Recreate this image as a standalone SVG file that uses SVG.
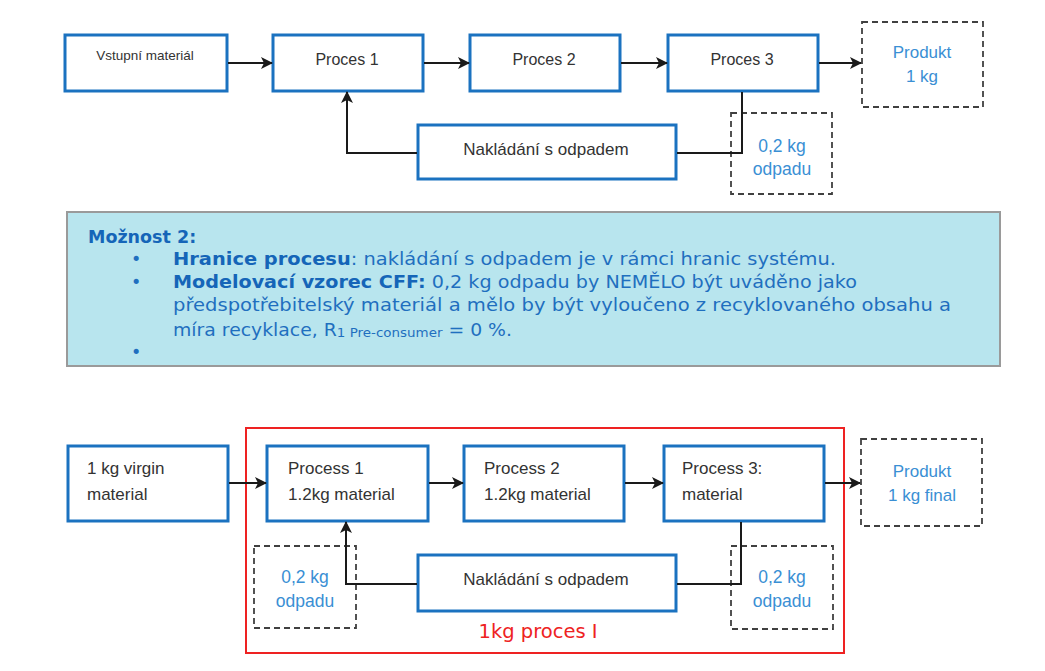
<svg xmlns="http://www.w3.org/2000/svg" width="1045" height="671" viewBox="0 0 1045 671">
  <style>
    .node { fill: #ffffff; stroke: #1b72c0; stroke-width: 3; }
    .dash { fill: #ffffff; stroke: #404040; stroke-width: 1.8; stroke-dasharray: 6 4; }
    .lbl { font-family: "Liberation Sans", Arial, sans-serif; font-size: 16px; fill: #333333; }
    .lbl17 { font-size: 17px; }
    .blue { font-family: "Liberation Sans", Arial, sans-serif; font-size: 17px; fill: #3a8fd4; }
    .edge { fill: none; stroke: #1a1a1a; stroke-width: 2; }
    .note { font-family: "DejaVu Sans", Verdana, sans-serif; font-size: 17.5px; fill: #1f6fbf; }
    .noteb { font-weight: bold; fill: #1565b8; }
  </style>
  <defs>
    <marker id="arrow" viewBox="0 0 12 12" refX="11" refY="6" markerWidth="12" markerHeight="12" markerUnits="userSpaceOnUse" orient="auto">
      <path d="M0,0 L12,6 L0,12 L3,6 Z" fill="#1a1a1a"/>
    </marker>
  </defs>

  <rect width="1045" height="671" fill="#ffffff"/>

  <!-- Upper flow: option 2 -->
  <g id="top-input"><rect class="node" x="65" y="35" width="162" height="56"/><text class="lbl" x="145" y="60" text-anchor="middle" style="font-size:13.5px">Vstupní materiál</text></g>
  <g id="top-p1"><rect class="node" x="273" y="35" width="150" height="56"/><text class="lbl" x="347" y="65" text-anchor="middle">Proces 1</text></g>
  <g id="top-p2"><rect class="node" x="470" y="35" width="150" height="56"/><text class="lbl" x="544" y="65" text-anchor="middle">Proces 2</text></g>
  <g id="top-p3"><rect class="node" x="668" y="35" width="150" height="56"/><text class="lbl" x="742" y="65" text-anchor="middle">Proces 3</text></g>
  <g id="top-product"><rect class="dash" x="862" y="22" width="121" height="85"/><text class="blue" x="922" y="58" text-anchor="middle">Produkt</text><text class="blue" x="922" y="82" text-anchor="middle">1 kg</text></g>
  <g id="top-waste-box"><rect class="dash" x="731" y="113" width="101" height="81"/><text class="blue" x="782" y="152" text-anchor="middle" style="font-size:17.5px">0,2 kg</text><text class="blue" x="782" y="175" text-anchor="middle" style="font-size:17.5px">odpadu</text></g>
  <g id="top-waste-mgmt"><rect class="node" x="418" y="125" width="258" height="54"/><text class="lbl lbl17" x="546" y="155" text-anchor="middle">Nakládání s odpadem</text></g>

  <g id="top-connectors">
    <line class="edge" x1="228" y1="63" x2="272" y2="63" marker-end="url(#arrow)"/>
    <line class="edge" x1="424" y1="63" x2="469" y2="63" marker-end="url(#arrow)"/>
    <line class="edge" x1="621" y1="63" x2="667" y2="63" marker-end="url(#arrow)"/>
    <line class="edge" x1="819" y1="63" x2="861" y2="63" marker-end="url(#arrow)"/>
    <polyline class="edge" points="742,92 742,153 677,153"/>
    <polyline class="edge" points="417,153 347,153 347,92" marker-end="url(#arrow)"/>
  </g>

  <!-- Note panel -->
  <g id="note">
    <rect x="67" y="212" width="933" height="154" fill="#b8e5ee" stroke="#9a9a9a" stroke-width="2"/>
    <text class="note noteb" x="88" y="243">Možnost 2:</text>
    <text class="note" x="131" y="265">•</text>
    <text class="note" x="173" y="265" textLength="663" lengthAdjust="spacingAndGlyphs"><tspan class="noteb">Hranice procesu</tspan>: nakládání s odpadem je v rámci hranic systému.</text>
    <text class="note" x="131" y="288">•</text>
    <text class="note" x="173" y="288" textLength="684" lengthAdjust="spacingAndGlyphs"><tspan class="noteb">Modelovací vzorec CFF:</tspan> 0,2 kg odpadu by NEMĚLO být uváděno jako</text>
    <text class="note" x="173" y="311" textLength="778" lengthAdjust="spacingAndGlyphs">předspotřebitelský materiál a mělo by být vyloučeno z recyklovaného obsahu a</text>
    <text class="note" x="173" y="336" textLength="339" lengthAdjust="spacingAndGlyphs">míra recyklace, R<tspan font-size="12.5" dy="1">1 Pre-consumer</tspan><tspan dy="-1"> = 0 %.</tspan></text>
    <text class="note" x="131" y="358">•</text>
  </g>

  <!-- Lower flow: system boundary -->
  <g id="boundary"><rect x="246" y="428" width="598" height="225" fill="none" stroke="#ee2222" stroke-width="2"/><text x="538" y="638" text-anchor="middle" font-family="DejaVu Sans, Verdana, sans-serif" font-size="19.5" fill="#ee2222">1kg proces I</text></g>

  <g id="bot-input"><rect class="node" x="68" y="446" width="160" height="75"/><text class="lbl lbl17" x="87" y="474">1 kg virgin</text><text class="lbl lbl17" x="87" y="500">material</text></g>
  <g id="bot-p1"><rect class="node" x="267" y="446" width="161" height="75"/><text class="lbl lbl17" x="288" y="474">Process 1</text><text class="lbl lbl17" x="288" y="500">1.2kg material</text></g>
  <g id="bot-p2"><rect class="node" x="464" y="446" width="160" height="75"/><text class="lbl lbl17" x="484" y="474">Process 2</text><text class="lbl lbl17" x="484" y="500">1.2kg material</text></g>
  <g id="bot-p3"><rect class="node" x="664" y="446" width="160" height="75"/><text class="lbl lbl17" x="682" y="474">Process 3:</text><text class="lbl lbl17" x="682" y="500">material</text></g>
  <g id="bot-product"><rect class="dash" x="861" y="439" width="121" height="87"/><text class="blue" x="922" y="477" text-anchor="middle">Produkt</text><text class="blue" x="922" y="501" text-anchor="middle">1 kg final</text></g>
  <g id="bot-waste-left"><rect class="dash" x="254" y="546" width="102" height="82"/><text class="blue" x="305" y="583" text-anchor="middle" style="font-size:17.5px">0,2 kg</text><text class="blue" x="305" y="607" text-anchor="middle" style="font-size:17.5px">odpadu</text></g>
  <g id="bot-waste-right"><rect class="dash" x="731" y="546" width="102" height="83"/><text class="blue" x="782" y="583" text-anchor="middle" style="font-size:17.5px">0,2 kg</text><text class="blue" x="782" y="607" text-anchor="middle" style="font-size:17.5px">odpadu</text></g>
  <g id="bot-waste-mgmt"><rect class="node" x="418" y="555" width="258" height="56"/><text class="lbl lbl17" x="546" y="585" text-anchor="middle">Nakládání s odpadem</text></g>

  <g id="bot-connectors">
    <line class="edge" x1="229" y1="483" x2="266" y2="483" marker-end="url(#arrow)"/>
    <line class="edge" x1="429" y1="483" x2="463" y2="483" marker-end="url(#arrow)"/>
    <line class="edge" x1="625" y1="483" x2="663" y2="483" marker-end="url(#arrow)"/>
    <line class="edge" x1="825" y1="483" x2="860" y2="483" marker-end="url(#arrow)"/>
    <polyline class="edge" points="741,522 741,584 677,584"/>
    <polyline class="edge" points="417,584 346,584 346,522" marker-end="url(#arrow)"/>
  </g>
</svg>
